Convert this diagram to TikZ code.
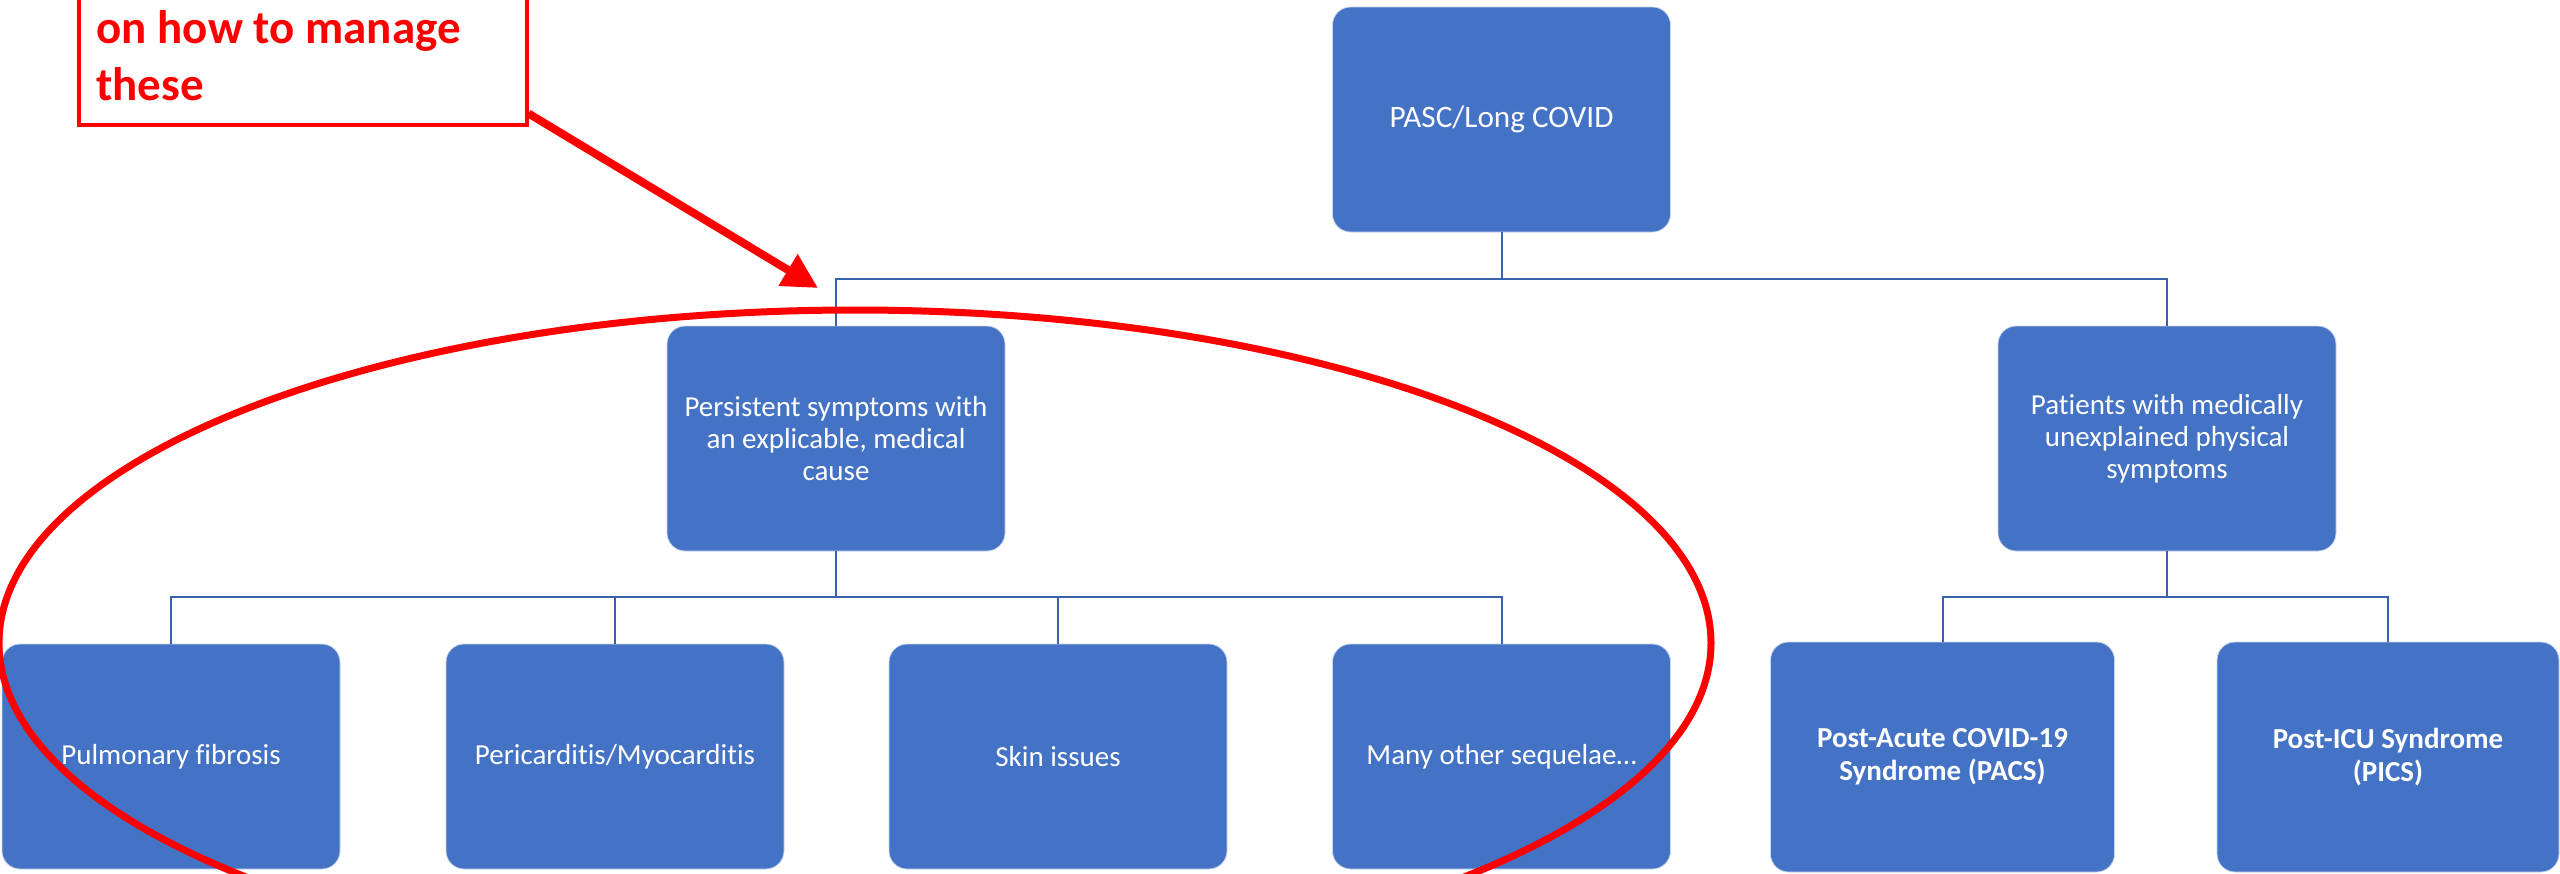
\documentclass[tikz,border=0pt]{standalone}
\usepackage{fontspec}
\setmainfont{Carlito}[Ligatures=NoCommon]
\usetikzlibrary{arrows.meta,calc}
\definecolor{boxblue}{HTML}{4472C4}
\definecolor{linkblue}{HTML}{3A62AC}
\definecolor{alertred}{HTML}{FF0000}

\begin{document}
\begin{tikzpicture}[x=0.5pt,y=-0.5pt,
  card/.style={rectangle, rounded corners=9pt, fill=boxblue,
    draw=white!70!boxblue, line width=0.4pt,
    minimum width=169pt, minimum height=112.5pt, inner sep=2pt,
    text=white, align=center, font=\fontsize{14.5}{15.9}\selectfont},
  topcard/.style={card, font=\fontsize{15.6}{18}\selectfont},
  boldcard/.style={card, font=\fontsize{14.5}{16.4}\selectfont\bfseries},
  link/.style={draw=linkblue, line width=1pt},
  alert/.style={draw=alertred, line width=#1},
  ]
\useasboundingbox (0,0) rectangle (2560,873);
\clip (0,0) rectangle (2560,873);

% hierarchy boxes
\node[topcard] (pasc) at (1501.5,119.5) {PASC/Long COVID};
\node[card] (pers) at (836,438.5) {Persistent symptoms with\\an explicable, medical\\cause};
\node[card] (unexp) at (2167,438.5) {Patients with medically\\unexplained physical\\symptoms};
\node[card] (pulm) at (171,756.5) {Pulmonary fibrosis};
\node[card] (peri) at (615,756.5) {Pericarditis/Myocarditis};
\node[card] (skin) at (1058,756.5) {Skin issues};
\node[card] (many) at (1501.5,756.5) {Many other sequelae…};
\node[boldcard, minimum width=172pt, minimum height=115pt] (pacs) at (1942.5,757) {Post-Acute COVID-19\\Syndrome (PACS)};
\node[boldcard, minimum width=171pt, minimum height=115pt] (pics) at (2388,757) {Post-ICU Syndrome\\(PICS)};

% elbow connectors
\draw[link] (pasc.south) -- ++(0,47) -| (pers.north);
\draw[link] (pasc.south) -- ++(0,47) -| (unexp.north);
\foreach \child in {pulm,peri,skin,many}
  \draw[link] (pers.south) -- ++(0,46) -| (\child.north);
\foreach \child in {pacs,pics}
  \draw[link] (unexp.south) -- ++(0,46) -| (\child.north);

% callout box with note
\node[alert=2pt, minimum width=223.75pt, minimum height=150pt,
      anchor=south west, inner sep=0pt] (note) at (77,126.5) {};
\node[anchor=base west, text=alertred, inner sep=0pt, align=left,
      font=\fontsize{23.5}{28.5}\selectfont\bfseries] (notetext) at (96,100)
      {on how to manage\\these};

% highlight ellipse and pointer arrow
\draw[alert=3.5pt] (855,643) ellipse [x radius=428pt, y radius=166.5pt];
\coordinate (tip) at (818,288);
\draw[alert=4pt, -{Triangle[length=17.5pt,width=17.5pt]}]
  ($(note.south east)+(0,-13)$) -- (tip);
\end{tikzpicture}
\end{document}
